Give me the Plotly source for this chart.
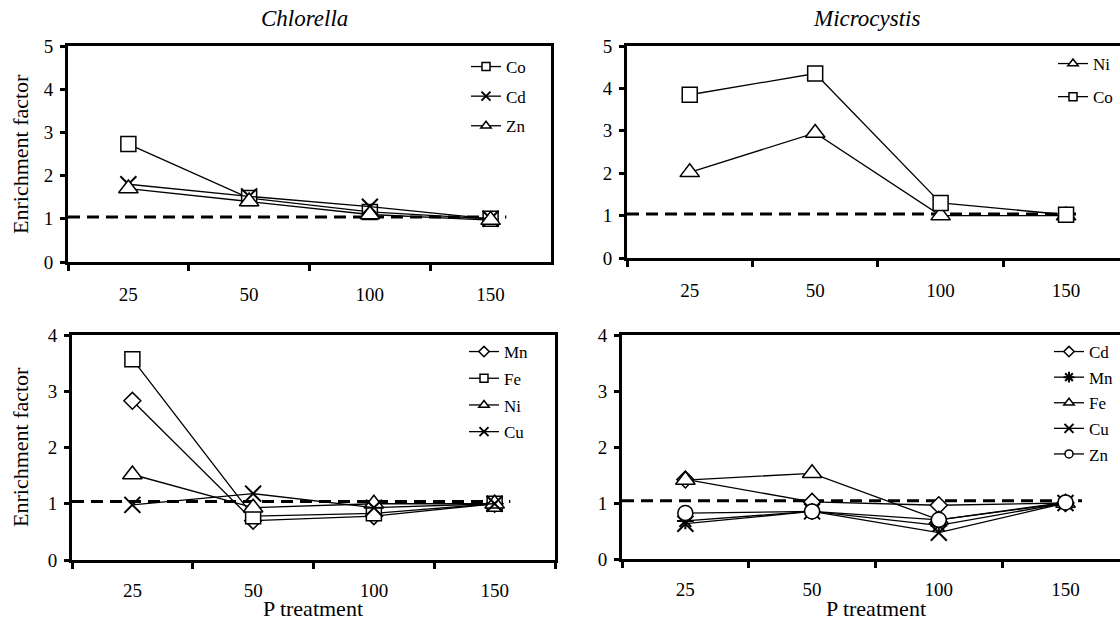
import plotly.graph_objects as go

# ---------------- data ----------------
p_levels = ["25", "50", "100", "150"]

# Chlorella, top panel
chl_top = {
    "Co": [2.73, 1.48, 1.16, 1.0],
    "Cd": [1.80, 1.52, 1.28, 1.0],
    "Zn": [1.70, 1.40, 1.10, 0.97],
}
# Microcystis, top panel
mic_top = {
    "Ni": [2.02, 2.95, 1.0, 1.0],
    "Co": [3.85, 4.35, 1.30, 1.02],
}
# Chlorella, bottom panel
chl_bot = {
    "Mn": [2.83, 0.70, 0.78, 1.0],
    "Fe": [3.57, 0.78, 0.83, 1.0],
    "Ni": [1.52, 0.93, 1.00, 1.0],
    "Cu": [0.98, 1.18, 0.93, 1.0],
}
# Microcystis, bottom panel
mic_bot = {
    "Cd": [1.42, 1.02, 0.96, 1.0],
    "Mn": [0.68, 0.85, 0.60, 1.0],
    "Fe": [1.41, 1.53, 0.70, 1.0],
    "Cu": [0.63, 0.85, 0.47, 1.0],
    "Zn": [0.82, 0.85, 0.70, 1.01],
}
reference_level = 1.04

panel_titles = ["Chlorella", "Microcystis"]
y_title = "Enrichment factor"
x_title = "P treatment"

# ---------------- styles ----------------
FONT = "'Liberation Serif', 'Times New Roman', Tinos, 'DejaVu Serif', serif"
symbols = {
    ("chl_top", "Co"): "square", ("chl_top", "Cd"): "x-thin", ("chl_top", "Zn"): "triangle-up",
    ("mic_top", "Ni"): "triangle-up", ("mic_top", "Co"): "square",
    ("chl_bot", "Mn"): "diamond", ("chl_bot", "Fe"): "square", ("chl_bot", "Ni"): "triangle-up",
    ("chl_bot", "Cu"): "x-thin",
    ("mic_bot", "Cd"): "diamond", ("mic_bot", "Mn"): "asterisk", ("mic_bot", "Fe"): "triangle-up",
    ("mic_bot", "Cu"): "x-thin", ("mic_bot", "Zn"): "circle",
}
big_size = {"square": 15, "x-thin": 16, "triangle-up": 17, "diamond": 13, "asterisk": 14, "circle": 15}
small_size = {"square": 8, "x-thin": 9, "triangle-up": 9, "diamond": 8, "asterisk": 9, "circle": 8}

panels = [
    ("chl_top", chl_top, "x", "y", "legend"),
    ("mic_top", mic_top, "x2", "y2", "legend2"),
    ("chl_bot", chl_bot, "x3", "y3", "legend3"),
    ("mic_bot", mic_bot, "x4", "y4", "legend4"),
]

fig = go.Figure()
for key, data, xa, ya, lg in panels:
    for name, vals in data.items():
        sym = symbols[(key, name)]
        lined = sym in ("x-thin", "asterisk")
        fig.add_trace(go.Scatter(
            x=p_levels, y=vals, xaxis=xa, yaxis=ya, mode="lines+markers",
            name=name, showlegend=False,
            line=dict(color="black", width=1.3),
            marker=dict(symbol=sym, size=big_size[sym], color="white",
                        line=dict(color="black", width=2 if lined else 1.5)),
        ))
    for name in data:
        sym = symbols[(key, name)]
        lined = sym in ("x-thin", "asterisk")
        fig.add_trace(go.Scatter(
            x=[None], y=[None], xaxis=xa, yaxis=ya, mode="lines+markers",
            name=name, legend=lg, legendgroup=key + name, showlegend=True,
            line=dict(color="black", width=1.3),
            marker=dict(symbol=sym, size=small_size[sym], color="white",
                        line=dict(color="black", width=2 if lined else 1.5)),
        ))

W, H = 1120, 624
def px_x(v):
    return v / W
def px_y(v):
    return 1 - v / H

axis_common = dict(showline=True, linewidth=3, linecolor="black", showgrid=False,
                   zeroline=False, ticks="outside", tickwidth=2.5, tickcolor="black",
                   automargin=False,
                   tickfont=dict(family=FONT, size=19, color="black"))

layout_axes = {}
geom = [
    # x0, x1, y_top, y_bottom, xmax, ymax, mirror_y, label standoff
    (68, 551, 46, 262, 3.5, 5, True, 13),
    (627, 1120, 46, 258, 3.43, 5, False, 13),
    (72, 555, 335, 560, 3.5, 4, True, 11),
    (622, 1120, 335, 559, 3.43, 4, False, 11),
]
for i, (x0, x1, yt, yb, xmax, ymax, mir, so) in enumerate(geom):
    sfx = "" if i == 0 else str(i + 1)
    layout_axes["xaxis" + sfx] = dict(
        axis_common, type="category", categoryorder="array", categoryarray=p_levels,
        range=[-0.5, xmax], domain=[px_x(x0), px_x(x1)], anchor="y" + sfx,
        tickson="boundaries", ticklen=6, mirror=True, ticklabelstandoff=so,
    )
    layout_axes["yaxis" + sfx] = dict(
        axis_common, range=[0, ymax], tickvals=list(range(ymax + 1)),
        domain=[px_y(yb), px_y(yt)], anchor="x" + sfx, ticklen=5, mirror=mir,
        ticklabelstandoff=3,
    )

shapes = []
for i in range(4):
    sfx = "" if i == 0 else str(i + 1)
    shapes.append(dict(type="line", xref="x" + sfx, yref="y" + sfx,
                       x0=-0.5, x1=3.13, y0=reference_level, y1=reference_level,
                       line=dict(color="black", width=3, dash="12px,7px"), layer="below"))

annotations = []
for txt, xc in zip(panel_titles, [304, 867]):
    annotations.append(dict(text="<i>" + txt + "</i>", x=px_x(xc), y=px_y(18), xref="paper",
                            yref="paper", showarrow=False, xanchor="center", yanchor="middle",
                            font=dict(family=FONT, size=23, color="black")))
for xc in [313, 876]:
    annotations.append(dict(text=x_title, x=px_x(xc), y=px_y(608), xref="paper", yref="paper",
                            showarrow=False, xanchor="center", yanchor="middle",
                            font=dict(family=FONT, size=22, color="black")))
for yc in [154, 447]:
    annotations.append(dict(text=y_title, x=px_x(20), y=px_y(yc), xref="paper", yref="paper",
                            showarrow=False, xanchor="center", yanchor="middle", textangle=-90,
                            font=dict(family=FONT, size=22, color="black")))

def leg(x, y, gap):
    return dict(x=px_x(x), y=px_y(y), xanchor="left", yanchor="top", bgcolor="rgba(0,0,0,0)",
                font=dict(family=FONT, size=17, color="black"), traceorder="grouped",
                tracegroupgap=gap, borderwidth=0)

fig.update_layout(
    template="none",
    width=W, height=H, margin=dict(l=0, r=0, t=0, b=0, pad=0, autoexpand=False),
    font=dict(family=FONT, color="black"),
    paper_bgcolor="white", plot_bgcolor="white", showlegend=True,
    shapes=shapes, annotations=annotations,
    legend=leg(466, 49, 4.5),
    legend2=leg(1053, 46, 8),
    legend3=leg(464, 334, 1.6),
    legend4=leg(1049, 334, 0.5),
    **layout_axes,
)

fig.write_html("out.html")
